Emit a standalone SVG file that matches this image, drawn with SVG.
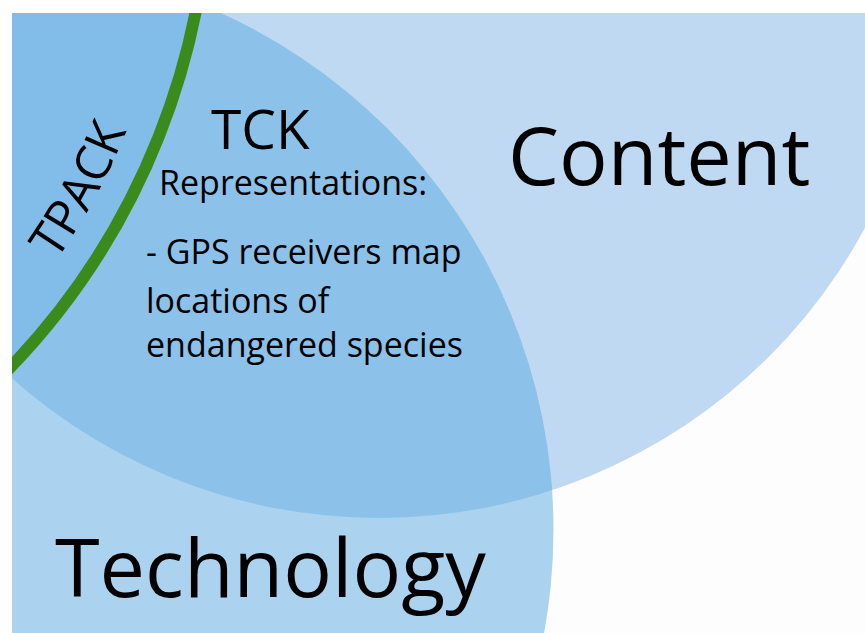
<svg xmlns="http://www.w3.org/2000/svg" width="865" height="633" viewBox="0 0 865 633">
<defs>
<clipPath id="frame"><rect x="12" y="13" width="853" height="620"/></clipPath>
<clipPath id="clipContent"><circle cx="379" cy="-34" r="552"/></clipPath>
<clipPath id="clipTech"><circle cx="-14.5" cy="530" r="568"/></clipPath>
<path id="tpackPath" d="M 57.2 259.3 A 683 683 0 0 0 166.9 -8.9" fill="none"/>
</defs>
<style>
text{font-family:"Open Sans","Noto Sans","DejaVu Sans",sans-serif;fill:#000}
.big{font-size:81px}
.tck{font-size:55px}
.body{font-size:34px}
.tpack{font-size:49px}
</style>
<rect x="0" y="0" width="865" height="633" fill="#ffffff"/>
<g clip-path="url(#frame)">
<rect x="12" y="13" width="853" height="620" fill="#fdfdfd"/>
<g id="content">
<circle cx="379" cy="-34" r="552" fill="#bed9f1"/>
</g>
<g id="technology">
<circle cx="-14.5" cy="530" r="568" fill="#abd3ef"/>
</g>
<g id="tck-overlap" clip-path="url(#clipContent)">
<circle cx="-14.5" cy="530" r="568" fill="#8cc1ea"/>
</g>
<g id="tpack-overlap" clip-path="url(#clipContent)">
<g clip-path="url(#clipTech)">
<circle cx="-505.7" cy="-127.5" r="715" fill="#82bde9"/>
</g>
</g>
<g id="pedagogy-arc">
<circle cx="-505.7" cy="-127.5" r="715" fill="none" stroke="#3a8a1c" stroke-width="12"/>
</g>
</g>
<g id="labels">
<text class="big" x="508" y="185">Content</text>
<text class="big" x="55" y="597">Technology</text>
<text class="tck" x="211" y="149">TCK</text>
<text class="body" x="159" y="195">Representations:</text>
<text class="body" x="146" y="264">- GPS receivers map</text>
<text class="body" x="146" y="313">locations of</text>
<text class="body" x="146" y="357">endangered species</text>
<text class="tpack"><textPath href="#tpackPath" startOffset="-2">TPACK</textPath></text>
</g>
</svg>
